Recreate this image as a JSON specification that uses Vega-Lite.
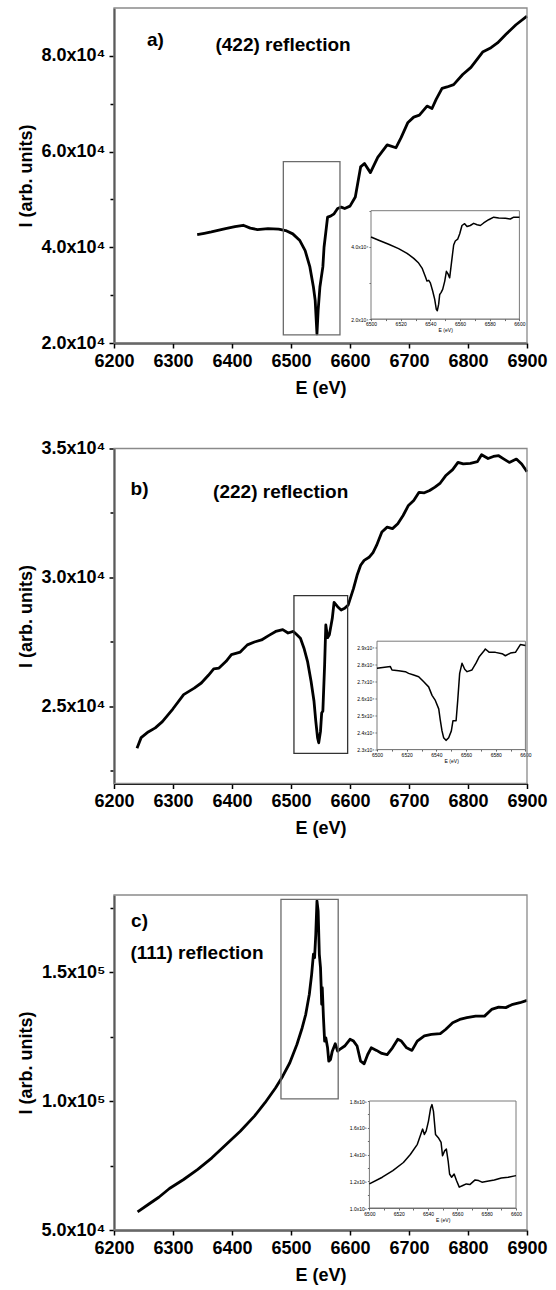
{
  "$schema": "https://vega.github.io/schema/vega-lite/v6.json",
  "padding": {"left": 17, "top": 7, "right": 4, "bottom": 4},
  "background": "white",
  "config": {
    "view": {"stroke": null},
    "font": "Liberation Sans",
    "axis": {
      "grid": false, "domainColor": "black", "tickColor": "black", "labelColor": "black", "titleColor": "black",
      "labelFont": "Liberation Sans", "titleFont": "Liberation Sans", "labelFontWeight": "bold", "titleFontWeight": "bold",
      "labelFontSize": 18, "titleFontSize": 18, "domainWidth": 1.8, "tickWidth": 1.5, "zindex": 2,
      "labelOverlap": false, "labelFlush": false, "labelPadding": 4, "titlePadding": 6
    },
    "axisX": {"titlePadding": 9},
    "text": {"font": "Liberation Sans", "fontWeight": "bold", "fontSize": 19, "color": "black"}
  },
  "datasets": {
    "one": [{}],
    "a": [
      {"E":6341,"I":42630},{"E":6353,"I":42900},{"E":6365,"I":43200},{"E":6389,"I":43900},{"E":6405,"I":44300},{"E":6419,"I":44600},{"E":6431,"I":44000},{"E":6443,"I":43700},{"E":6461,"I":43900},{"E":6479,"I":43800},{"E":6491,"I":43500},{"E":6503,"I":42800},{"E":6515,"I":41400},{"E":6524,"I":39300},{"E":6532,"I":35900},{"E":6538,"I":31700},{"E":6541,"I":28900},{"E":6544,"I":21900},{"E":6546,"I":26800},{"E":6549,"I":31700},{"E":6551,"I":33400},{"E":6554,"I":35900},{"E":6556,"I":40000},{"E":6558,"I":42100},{"E":6562,"I":46300},{"E":6567,"I":46500},{"E":6573,"I":47000},{"E":6579,"I":48100},{"E":6585,"I":48400},{"E":6591,"I":48100},{"E":6600,"I":48600},{"E":6609,"I":50500},{"E":6618,"I":56800},{"E":6624.5,"I":57500},{"E":6634.6,"I":55600},{"E":6647,"I":58800},{"E":6663,"I":61400},{"E":6678,"I":60800},{"E":6686.6,"I":62900},{"E":6697.8,"I":66000},{"E":6708,"I":67200},{"E":6717.6,"I":67600},{"E":6730.6,"I":69500},{"E":6739,"I":69000},{"E":6746,"I":70900},{"E":6756,"I":73200},{"E":6764.5,"I":73500},{"E":6775.7,"I":74000},{"E":6791,"I":76100},{"E":6805,"I":77600},{"E":6824.8,"I":80800},{"E":6839,"I":81700},{"E":6850,"I":82700},{"E":6864.4,"I":84500},{"E":6881.3,"I":86500},{"E":6900,"I":88300}
    ],
    "ai": [
      {"E":6500,"I":42700},{"E":6505.2,"I":41800},{"E":6511.9,"I":40700},{"E":6518.6,"I":39500},{"E":6524.3,"I":38200},{"E":6528.8,"I":36800},{"E":6532.1,"I":35500},{"E":6534.4,"I":34100},{"E":6536.6,"I":31800},{"E":6537.7,"I":30500},{"E":6538.9,"I":30700},{"E":6540,"I":30000},{"E":6541.6,"I":27700},{"E":6542.9,"I":25500},{"E":6544,"I":22700},{"E":6544.7,"I":22300},{"E":6545.6,"I":24100},{"E":6546.3,"I":26800},{"E":6547.2,"I":27300},{"E":6548.3,"I":28200},{"E":6549.7,"I":30500},{"E":6550.8,"I":33200},{"E":6551.9,"I":32500},{"E":6553,"I":31400},{"E":6554.2,"I":35500},{"E":6555.7,"I":40500},{"E":6556.8,"I":41600},{"E":6558.4,"I":42100},{"E":6559.8,"I":43600},{"E":6561.3,"I":45900},{"E":6563.1,"I":46400},{"E":6564.7,"I":45600},{"E":6566.9,"I":45900},{"E":6569.2,"I":46500},{"E":6571.5,"I":46100},{"E":6573.7,"I":45900},{"E":6575.9,"I":46600},{"E":6579.3,"I":47500},{"E":6582.7,"I":48200},{"E":6586.1,"I":48000},{"E":6590.6,"I":47900},{"E":6593.9,"I":47700},{"E":6596.2,"I":48200},{"E":6600,"I":48200}
    ],
    "b": [
      {"E":6239,"I":23370},{"E":6246,"I":23780},{"E":6258,"I":24000},{"E":6270,"I":24160},{"E":6282,"I":24400},{"E":6300,"I":24900},{"E":6318,"I":25450},{"E":6336,"I":25700},{"E":6348,"I":25900},{"E":6360,"I":26200},{"E":6369,"I":26450},{"E":6378,"I":26480},{"E":6390,"I":26740},{"E":6399,"I":27000},{"E":6414,"I":27100},{"E":6426,"I":27380},{"E":6438,"I":27490},{"E":6450,"I":27570},{"E":6462,"I":27740},{"E":6474,"I":27900},{"E":6486,"I":27970},{"E":6495,"I":27840},{"E":6504,"I":27900},{"E":6510,"I":27770},{"E":6516,"I":27640},{"E":6522,"I":27250},{"E":6528,"I":26740},{"E":6534,"I":25970},{"E":6539,"I":25190},{"E":6542,"I":24420},{"E":6545,"I":23780},{"E":6547,"I":23580},{"E":6550,"I":24030},{"E":6552,"I":24740},{"E":6554,"I":24810},{"E":6557,"I":26610},{"E":6559,"I":28150},{"E":6562,"I":27660},{"E":6565,"I":27770},{"E":6570,"I":28410},{"E":6573,"I":29030},{"E":6579,"I":28860},{"E":6585,"I":28730},{"E":6591,"I":28800},{"E":6597,"I":28930},{"E":6606,"I":29570},{"E":6612,"I":30080},{"E":6618,"I":30470},{"E":6624,"I":30660},{"E":6633,"I":30790},{"E":6639,"I":30960},{"E":6645,"I":31240},{"E":6654,"I":31760},{"E":6663,"I":31950},{"E":6672,"I":31890},{"E":6681,"I":32080},{"E":6690,"I":32400},{"E":6699,"I":32790},{"E":6708,"I":32980},{"E":6717,"I":33300},{"E":6726,"I":33280},{"E":6735,"I":33370},{"E":6744,"I":33500},{"E":6753,"I":33660},{"E":6762,"I":33940},{"E":6774,"I":34180},{"E":6783,"I":34460},{"E":6792,"I":34400},{"E":6804,"I":34420},{"E":6816,"I":34490},{"E":6823,"I":34760},{"E":6834,"I":34610},{"E":6843,"I":34690},{"E":6852,"I":34720},{"E":6861,"I":34590},{"E":6870,"I":34460},{"E":6882,"I":34590},{"E":6891,"I":34400},{"E":6900,"I":34100}
    ],
    "bi": [
      {"E":6500,"I":27800},{"E":6509,"I":27900},{"E":6510.1,"I":27700},{"E":6514.6,"I":27660},{"E":6519.1,"I":27600},{"E":6521.3,"I":27500},{"E":6524.7,"I":27400},{"E":6528.1,"I":27300},{"E":6531.5,"I":27000},{"E":6534.8,"I":26700},{"E":6537.1,"I":26200},{"E":6539.3,"I":25900},{"E":6541.6,"I":25400},{"E":6542.7,"I":24700},{"E":6543.8,"I":24100},{"E":6544.9,"I":23700},{"E":6546.5,"I":23540},{"E":6548.3,"I":23700},{"E":6550.1,"I":24100},{"E":6551.2,"I":24700},{"E":6553.3,"I":24700},{"E":6554.4,"I":25900},{"E":6555.7,"I":27500},{"E":6557.3,"I":28100},{"E":6559.1,"I":27740},{"E":6560.7,"I":27600},{"E":6564,"I":27700},{"E":6566.7,"I":28100},{"E":6569,"I":28500},{"E":6571.9,"I":28800},{"E":6573,"I":28940},{"E":6575.7,"I":28740},{"E":6579.8,"I":28740},{"E":6584.3,"I":28660},{"E":6586.5,"I":28540},{"E":6589.9,"I":28700},{"E":6593.3,"I":28740},{"E":6596.6,"I":29200},{"E":6600,"I":29140}
    ],
    "c": [
      {"E":6240,"I":57000},{"E":6258,"I":59900},{"E":6276,"I":62700},{"E":6294,"I":66100},{"E":6318,"I":69600},{"E":6342,"I":73500},{"E":6366,"I":78000},{"E":6390,"I":83200},{"E":6414,"I":88300},{"E":6438,"I":94200},{"E":6456,"I":99400},{"E":6474,"I":105200},{"E":6486,"I":109700},{"E":6498,"I":114900},{"E":6510,"I":122000},{"E":6519,"I":128500},{"E":6525,"I":133700},{"E":6531,"I":141400},{"E":6535,"I":149200},{"E":6538,"I":157000},{"E":6540,"I":155700},{"E":6542,"I":164700},{"E":6544,"I":177700},{"E":6546,"I":173800},{"E":6548,"I":157000},{"E":6550,"I":151800},{"E":6551,"I":145300},{"E":6552,"I":137600},{"E":6553,"I":144000},{"E":6555,"I":132400},{"E":6557,"I":123300},{"E":6559,"I":124600},{"E":6562,"I":120700},{"E":6564,"I":115500},{"E":6567,"I":116200},{"E":6570,"I":119400},{"E":6575,"I":122300},{"E":6579,"I":119400},{"E":6582,"I":120000},{"E":6591,"I":121400},{"E":6600,"I":124000},{"E":6606,"I":123300},{"E":6612,"I":121400},{"E":6618,"I":115500},{"E":6624,"I":114500},{"E":6630,"I":118100},{"E":6636,"I":120700},{"E":6645,"I":119700},{"E":6654,"I":118500},{"E":6663,"I":118100},{"E":6672,"I":120700},{"E":6681,"I":124000},{"E":6687,"I":123300},{"E":6696,"I":120700},{"E":6705,"I":119700},{"E":6714,"I":123300},{"E":6726,"I":125300},{"E":6738,"I":125900},{"E":6753,"I":126200},{"E":6762,"I":127800},{"E":6774,"I":130400},{"E":6786,"I":131700},{"E":6798,"I":132400},{"E":6813,"I":133000},{"E":6828,"I":133000},{"E":6840,"I":135600},{"E":6852,"I":136500},{"E":6864,"I":136300},{"E":6876,"I":137600},{"E":6888,"I":138200},{"E":6900,"I":139100}
    ],
    "ci": [
      {"E":6500,"I":118000},{"E":6508.8,"I":123000},{"E":6516,"I":128000},{"E":6523.2,"I":134000},{"E":6527.9,"I":140000},{"E":6532.7,"I":147600},{"E":6536.3,"I":159000},{"E":6537.5,"I":155000},{"E":6538.7,"I":157500},{"E":6540.3,"I":165000},{"E":6541.8,"I":174800},{"E":6542.7,"I":177300},{"E":6543.7,"I":172300},{"E":6545.1,"I":155000},{"E":6547,"I":152600},{"E":6548.9,"I":149000},{"E":6549.9,"I":139000},{"E":6551.3,"I":142700},{"E":6552.5,"I":144000},{"E":6553.7,"I":135300},{"E":6554.7,"I":125400},{"E":6556.1,"I":123000},{"E":6557.8,"I":125400},{"E":6559.4,"I":120500},{"E":6561.3,"I":115600},{"E":6563.7,"I":116800},{"E":6566.1,"I":118000},{"E":6568.5,"I":117500},{"E":6572.1,"I":121000},{"E":6574.5,"I":120500},{"E":6576.8,"I":119300},{"E":6580.4,"I":120000},{"E":6585.2,"I":121000},{"E":6590,"I":122500},{"E":6594.7,"I":123000},{"E":6600,"I":124200}
    ]
  },
  "spacing": 42.5,
  "vconcat": [
    {
      "width": 413, "height": 335,
      "resolve": {"scale": {"x": "independent", "y": "independent"}, "axis": {"x": "independent", "y": "independent"}},
      "layer": [
        {
          "layer": [
            {
              "data": {"name": "a"},
              "mark": {"type": "line", "color": "black", "strokeWidth": 2.8, "strokeJoin": "round"},
              "encoding": {
                "x": {"field": "E", "type": "quantitative", "scale": {"domain": [6200, 6900], "nice": false, "zero": false},
                  "axis": {"title": "E (eV)", "values": [6200,6250,6300,6350,6400,6450,6500,6550,6600,6650,6700,6750,6800,6850,6900],
                    "labelExpr": "datum.value % 100 === 0 ? format(datum.value, 'd') : ''",
                    "tickSize": {"condition": {"test": "datum.value % 100 === 0", "value": 5}, "value": 3}}},
                "y": {"field": "I", "type": "quantitative", "scale": {"domain": [20000, 90000], "nice": false, "zero": false},
                  "axis": {"title": "I (arb. units)", "values": [20000,30000,40000,50000,60000,70000,80000],
                    "labelExpr": "datum.value % 20000 === 0 ? format(datum.value/10000, '.1f') + 'x10⁴' : ''",
                    "tickSize": {"condition": {"test": "datum.value % 20000 === 0", "value": 5}, "value": 4}}}
              }
            },
            {
              "data": {"name": "one"},
              "mark": {"type": "rect", "filled": false, "color": "#8a8a8a", "strokeWidth": 1.3},
              "encoding": {"x": {"datum": 6200}, "x2": {"datum": 6900}, "y": {"datum": 20000}, "y2": {"datum": 90000}}
            },
            {
              "data": {"name": "one"},
              "mark": {"type": "rect", "filled": false, "color": "#6b6b6b", "strokeWidth": 1.3},
              "encoding": {"x": {"datum": 6487}, "x2": {"datum": 6583}, "y": {"datum": 21700}, "y2": {"datum": 57900}}
            },
            {
              "data": {"name": "one"},
              "mark": {"type": "text", "text": "a)", "align": "left", "baseline": "middle"},
              "encoding": {"x": {"datum": 6256}, "y": {"datum": 83400}}
            },
            {
              "data": {"name": "one"},
              "mark": {"type": "text", "text": "(422) reflection", "align": "left", "baseline": "middle"},
              "encoding": {"x": {"datum": 6372}, "y": {"datum": 82300}}
            }
          ]
        },
        {
          "layer": [
            {
              "data": {"name": "one"},
              "mark": {"type": "rect", "fill": "white", "stroke": "#7a7a7a", "strokeWidth": 1},
              "encoding": {"x": {"datum": 6500}, "x2": {"datum": 6600}, "y": {"datum": 20000}, "y2": {"datum": 50000}}
            },
            {
              "data": {"name": "ai"},
              "mark": {"type": "line", "color": "black", "strokeWidth": 1.5, "strokeJoin": "round"},
              "encoding": {
                "x": {"field": "E", "type": "quantitative", "scale": {"domain": [6500, 6600], "nice": false, "zero": false, "range": [257, 405.4]},
                  "axis": {"orient": "bottom", "offset": -24.4, "title": "E (eV)", "values": [6500,6510,6520,6530,6540,6550,6560,6570,6580,6590,6600],
                    "labelExpr": "datum.value % 20 === 0 ? format(datum.value, 'd') : ''",
                    "labelFontSize": 5, "labelFontWeight": "normal", "titleFontSize": 5, "titleFontWeight": "normal",
                    "tickSize": 2, "tickWidth": 0.6, "domainWidth": 0.9, "domainColor": "#555", "labelPadding": 1, "titlePadding": 1}},
                "y": {"field": "I", "type": "quantitative", "scale": {"domain": [20000, 50000], "nice": false, "zero": false, "range": [311, 202.7]},
                  "axis": {"orient": "left", "offset": -257, "title": null, "values": [20000,30000,40000,50000],
                    "labelExpr": "datum.value % 20000 === 0 ? format(datum.value/10000, '.1f') + 'x10⁴' : ''",
                    "labelFontSize": 5, "labelFontWeight": "normal",
                    "tickSize": 2, "tickWidth": 0.6, "domainWidth": 0.9, "domainColor": "#555", "labelPadding": 1}}
              }
            }
          ]
        }
      ]
    },
    {
      "spacing": 56.5,
      "vconcat": [
        {
          "width": 413, "height": 335,
          "resolve": {"scale": {"x": "independent", "y": "independent"}, "axis": {"x": "independent", "y": "independent"}},
          "layer": [
            {
              "layer": [
                {
                  "data": {"name": "b"},
                  "mark": {"type": "line", "color": "black", "strokeWidth": 2.8, "strokeJoin": "round"},
                  "encoding": {
                    "x": {"field": "E", "type": "quantitative", "scale": {"domain": [6200, 6900], "nice": false, "zero": false},
                      "axis": {"title": "E (eV)", "values": [6200,6250,6300,6350,6400,6450,6500,6550,6600,6650,6700,6750,6800,6850,6900],
                        "labelExpr": "datum.value % 100 === 0 ? format(datum.value, 'd') : ''",
                        "tickSize": {"condition": {"test": "datum.value % 100 === 0", "value": 5}, "value": 3}}},
                    "y": {"field": "I", "type": "quantitative", "scale": {"domain": [22000, 35000], "nice": false, "zero": false},
                      "axis": {"title": "I (arb. units)", "values": [22500,25000,27500,30000,32500,35000],
                        "labelExpr": "datum.value % 5000 === 0 ? format(datum.value/10000, '.1f') + 'x10⁴' : ''",
                        "tickSize": {"condition": {"test": "datum.value % 5000 === 0", "value": 5}, "value": 4}}}
                  }
                },
                {
                  "data": {"name": "one"},
                  "mark": {"type": "rect", "filled": false, "color": "#8a8a8a", "strokeWidth": 1.3},
                  "encoding": {"x": {"datum": 6200}, "x2": {"datum": 6900}, "y": {"datum": 22000}, "y2": {"datum": 35000}}
                },
                {
                  "data": {"name": "one"},
                  "mark": {"type": "rect", "filled": false, "color": "#333333", "strokeWidth": 1.3},
                  "encoding": {"x": {"datum": 6505}, "x2": {"datum": 6596}, "y": {"datum": 23170}, "y2": {"datum": 29290}}
                },
                {
                  "data": {"name": "one"},
                  "mark": {"type": "text", "text": "b)", "align": "left", "baseline": "middle"},
                  "encoding": {"x": {"datum": 6228}, "y": {"datum": 33430}}
                },
                {
                  "data": {"name": "one"},
                  "mark": {"type": "text", "text": "(222) reflection", "align": "left", "baseline": "middle"},
                  "encoding": {"x": {"datum": 6368}, "y": {"datum": 33300}}
                }
              ]
            },
            {
              "layer": [
                {
                  "data": {"name": "one"},
                  "mark": {"type": "rect", "fill": "white", "stroke": "#7a7a7a", "strokeWidth": 1},
                  "encoding": {"x": {"datum": 6500}, "x2": {"datum": 6600}, "y": {"datum": 23000}, "y2": {"datum": 29400}}
                },
                {
                  "data": {"name": "bi"},
                  "mark": {"type": "line", "color": "black", "strokeWidth": 1.5, "strokeJoin": "round"},
                  "encoding": {
                    "x": {"field": "E", "type": "quantitative", "scale": {"domain": [6500, 6600], "nice": false, "zero": false, "range": [263, 411.4]},
                      "axis": {"orient": "bottom", "offset": -34.4, "title": "E (eV)", "values": [6500,6510,6520,6530,6540,6550,6560,6570,6580,6590,6600],
                        "labelExpr": "datum.value % 20 === 0 ? format(datum.value, 'd') : ''",
                        "labelFontSize": 5, "labelFontWeight": "normal", "titleFontSize": 5, "titleFontWeight": "normal",
                        "tickSize": 2, "tickWidth": 0.6, "domainWidth": 0.9, "domainColor": "#555", "labelPadding": 1, "titlePadding": 1}},
                    "y": {"field": "I", "type": "quantitative", "scale": {"domain": [23000, 29400], "nice": false, "zero": false, "range": [301, 192.7]},
                      "axis": {"orient": "left", "offset": -263, "title": null, "values": [23000,24000,25000,26000,27000,28000,29000],
                        "labelExpr": "format(datum.value/10000, '.1f') + 'x10⁴'",
                        "labelFontSize": 5, "labelFontWeight": "normal",
                        "tickSize": 2, "tickWidth": 0.6, "domainWidth": 0.9, "domainColor": "#555", "labelPadding": 1}}
                  }
                }
              ]
            }
          ]
        },
        {
          "width": 413, "height": 335,
          "resolve": {"scale": {"x": "independent", "y": "independent"}, "axis": {"x": "independent", "y": "independent"}},
          "layer": [
            {
              "layer": [
                {
                  "data": {"name": "c"},
                  "mark": {"type": "line", "color": "black", "strokeWidth": 2.8, "strokeJoin": "round"},
                  "encoding": {
                    "x": {"field": "E", "type": "quantitative", "scale": {"domain": [6200, 6900], "nice": false, "zero": false},
                      "axis": {"title": "E (eV)", "values": [6200,6250,6300,6350,6400,6450,6500,6550,6600,6650,6700,6750,6800,6850,6900],
                        "labelExpr": "datum.value % 100 === 0 ? format(datum.value, 'd') : ''",
                        "tickSize": {"condition": {"test": "datum.value % 100 === 0", "value": 5}, "value": 3}}},
                    "y": {"field": "I", "type": "quantitative", "scale": {"domain": [50000, 180000], "nice": false, "zero": false},
                      "axis": {"title": "I (arb. units)", "values": [50000,75000,100000,125000,150000,175000],
                        "labelExpr": "datum.value % 50000 === 0 ? (datum.value >= 100000 ? format(datum.value/100000, '.1f') + 'x10⁵' : format(datum.value/10000, '.1f') + 'x10⁴') : ''",
                        "tickSize": {"condition": {"test": "datum.value % 50000 === 0", "value": 5}, "value": 4}}}
                  }
                },
                {
                  "data": {"name": "one"},
                  "mark": {"type": "rect", "filled": false, "color": "#8a8a8a", "strokeWidth": 1.3},
                  "encoding": {"x": {"datum": 6200}, "x2": {"datum": 6900}, "y": {"datum": 50000}, "y2": {"datum": 180000}}
                },
                {
                  "data": {"name": "one"},
                  "mark": {"type": "rect", "filled": false, "color": "#6b6b6b", "strokeWidth": 1.3},
                  "encoding": {"x": {"datum": 6483}, "x2": {"datum": 6580}, "y": {"datum": 100900}, "y2": {"datum": 178300}}
                },
                {
                  "data": {"name": "one"},
                  "mark": {"type": "text", "text": "c)", "align": "left", "baseline": "middle"},
                  "encoding": {"x": {"datum": 6229}, "y": {"datum": 169900}}
                },
                {
                  "data": {"name": "one"},
                  "mark": {"type": "text", "text": "(111) reflection", "align": "left", "baseline": "middle"},
                  "encoding": {"x": {"datum": 6228}, "y": {"datum": 157600}}
                }
              ]
            },
            {
              "layer": [
                {
                  "data": {"name": "one"},
                  "mark": {"type": "rect", "fill": "white", "stroke": "#7a7a7a", "strokeWidth": 1},
                  "encoding": {"x": {"datum": 6500}, "x2": {"datum": 6600}, "y": {"datum": 100000}, "y2": {"datum": 180000}}
                },
                {
                  "data": {"name": "ci"},
                  "mark": {"type": "line", "color": "black", "strokeWidth": 1.5, "strokeJoin": "round"},
                  "encoding": {
                    "x": {"field": "E", "type": "quantitative", "scale": {"domain": [6500, 6600], "nice": false, "zero": false, "range": [255.4, 402]},
                      "axis": {"orient": "bottom", "offset": -22, "title": "E (eV)", "values": [6500,6510,6520,6530,6540,6550,6560,6570,6580,6590,6600],
                        "labelExpr": "datum.value % 20 === 0 ? format(datum.value, 'd') : ''",
                        "labelFontSize": 5, "labelFontWeight": "normal", "titleFontSize": 5, "titleFontWeight": "normal",
                        "tickSize": 2, "tickWidth": 0.6, "domainWidth": 0.9, "domainColor": "#555", "labelPadding": 1, "titlePadding": 1}},
                    "y": {"field": "I", "type": "quantitative", "scale": {"domain": [100000, 180000], "nice": false, "zero": false, "range": [313, 206]},
                      "axis": {"orient": "left", "offset": -255.4, "title": null, "values": [100000,110000,120000,130000,140000,150000,160000,170000,180000],
                        "labelExpr": "datum.value % 20000 === 0 ? format(datum.value/100000, '.1f') + 'x10⁵' : ''",
                        "labelFontSize": 5, "labelFontWeight": "normal",
                        "tickSize": 2, "tickWidth": 0.6, "domainWidth": 0.9, "domainColor": "#555", "labelPadding": 1}}
                  }
                }
              ]
            }
          ]
        }
      ]
    }
  ]
}
